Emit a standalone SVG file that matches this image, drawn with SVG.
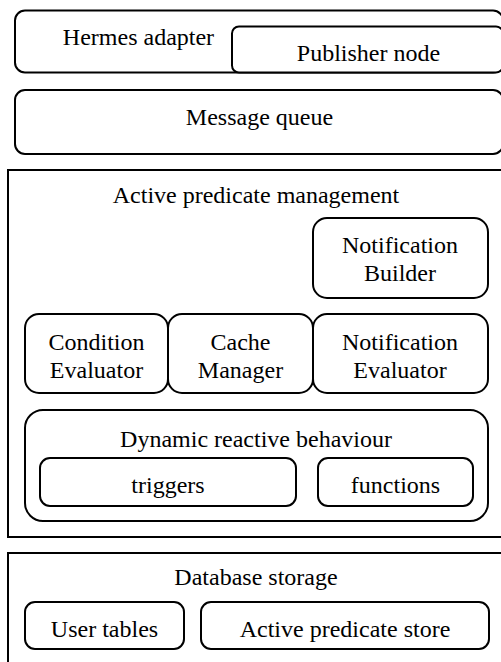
<svg xmlns="http://www.w3.org/2000/svg" width="501" height="662" viewBox="0 0 501 662">
  <style>
    .box { fill: #ffffff; stroke: #000000; stroke-width: 2; }
    text { font-family: 'Liberation Serif', 'Times New Roman', serif; font-size: 24px; fill: #000000; text-anchor: middle; }
  </style>
  <rect x="0" y="0" width="501" height="662" fill="#ffffff"/>

  <!-- Hermes adapter with embedded publisher node -->
  <g id="hermes-adapter">
    <rect class="box" x="15" y="10.5" width="488" height="62" rx="10"/>
    <text x="138.5" y="45">Hermes adapter</text>
  </g>
  <g id="publisher-node">
    <rect class="box" x="232" y="26.5" width="271" height="46" rx="7"/>
    <text x="368.5" y="61">Publisher node</text>
  </g>

  <g id="message-queue">
    <rect class="box" x="15" y="90" width="488" height="64" rx="10"/>
    <text x="259.5" y="125">Message queue</text>
  </g>

  <!-- Active predicate management layer -->
  <g id="active-predicate-management">
    <rect class="box" x="8" y="170" width="500" height="367"/>
    <text x="256" y="203">Active predicate management</text>
  </g>
  <g id="notification-builder">
    <rect class="box" x="313" y="218" width="175" height="80" rx="14"/>
    <text x="400" y="253">Notification</text>
    <text x="400" y="281">Builder</text>
  </g>
  <g id="condition-evaluator">
    <rect class="box" x="25" y="314" width="143" height="79" rx="14"/>
    <text x="96.5" y="350">Condition</text>
    <text x="96.5" y="378">Evaluator</text>
  </g>
  <g id="cache-manager">
    <rect class="box" x="168" y="314" width="145" height="79" rx="14"/>
    <text x="240.5" y="350">Cache</text>
    <text x="240.5" y="378">Manager</text>
  </g>
  <g id="notification-evaluator">
    <rect class="box" x="313" y="314" width="175" height="79" rx="14"/>
    <text x="400" y="350">Notification</text>
    <text x="400" y="378">Evaluator</text>
  </g>
  <g id="dynamic-reactive-behaviour">
    <rect class="box" x="25" y="410" width="463" height="111" rx="18"/>
    <text x="256" y="447">Dynamic reactive behaviour</text>
  </g>
  <g id="triggers">
    <rect class="box" x="40" y="458" width="256" height="48" rx="10"/>
    <text x="168" y="493">triggers</text>
  </g>
  <g id="functions">
    <rect class="box" x="318" y="458" width="155" height="48" rx="10"/>
    <text x="395.5" y="493">functions</text>
  </g>

  <!-- Database storage layer -->
  <g id="database-storage">
    <rect class="box" x="8" y="553" width="500" height="120"/>
    <text x="256" y="585">Database storage</text>
  </g>
  <g id="user-tables">
    <rect class="box" x="25" y="602" width="159" height="47" rx="10"/>
    <text x="104.5" y="637">User tables</text>
  </g>
  <g id="active-predicate-store">
    <rect class="box" x="201" y="602" width="288" height="47" rx="10"/>
    <text x="345" y="637">Active predicate store</text>
  </g>

  <g id="connectors"></g>
</svg>
